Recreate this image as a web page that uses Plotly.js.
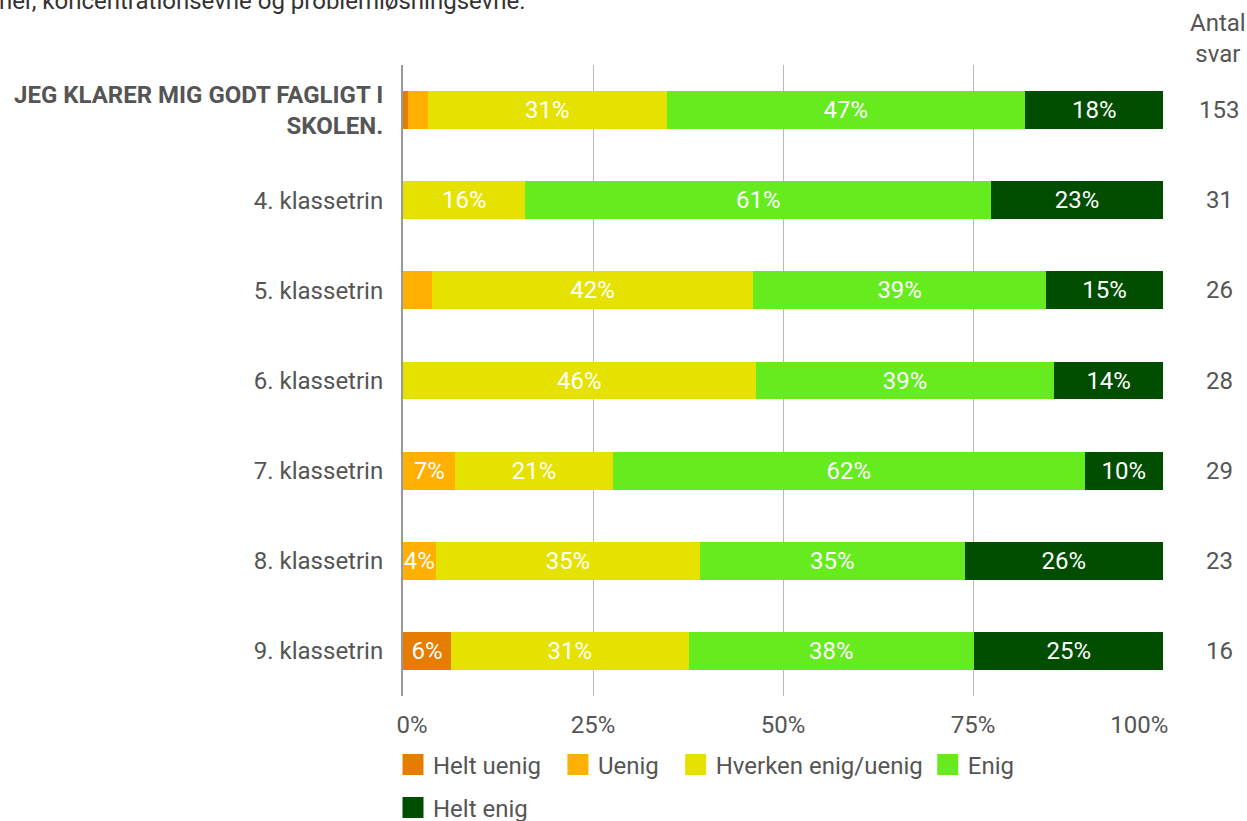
<!DOCTYPE html>
<html>
<head>
<meta charset="utf-8">
<script src="https://cdn.plot.ly/plotly-3.0.1.min.js"></script>
<style>html,body{margin:0;padding:0;background:#fff;}#chart{width:1247px;height:821px;}</style>
</head>
<body>
<div id="chart"></div>
<script>
const categories = ["JEG KLARER MIG GODT FAGLIGT I<br>SKOLEN.", "4. klassetrin", "5. klassetrin", "6. klassetrin", "7. klassetrin", "8. klassetrin", "9. klassetrin"];
const counts = [153, 31, 26, 28, 29, 23, 16];
const seriesNames = ["Helt uenig", "Uenig", "Hverken enig/uenig", "Enig", "Helt enig"];
const seriesColors = ["#E67C00", "#FFB000", "#E6E200", "#66EB1E", "#004D00"];
const heltUenig = [0.7, 0, 0, 0, 0, 0, 6.3];
const uenig = [2.6, 0, 3.8, 0, 6.9, 4.3, 0];
const hverken = [31.4, 16.1, 42.3, 46.4, 20.7, 34.8, 31.3];
const enig = [47.1, 61.3, 38.5, 39.3, 62.1, 34.8, 37.5];
const heltEnig = [18.3, 22.6, 15.4, 14.3, 10.3, 26.1, 25.0];
const xTicks = [0, 25, 50, 75, 100];
const xTickLabels = ["0%", "25%", "50%", "75%", "100%"];
const headerText = "Antal<br>svar";
const topText = "ner, koncentrationsevne og problemløsningsevne.";

const FONT = 'Roboto, sans-serif';
const NB = '\u00A0';
const series = [heltUenig, uenig, hverken, enig, heltEnig];
const ids = categories.map((c, i) => i);
const tickText = categories.map((c, i) => i === 0 ? '<b>' + c + '</b>' : c);
// first/last x tick labels sit inward, as in the reference
const xTickText = xTickLabels.map((t, i) => i === 0 ? NB.repeat(3) + t : (i === xTickLabels.length - 1 ? t + NB.repeat(8) : t));
// extra spacing after some legend entries
const legendPad = [2, 2, 0, 0, 0];

const traces = series.map((vals, k) => ({
  type: 'bar',
  orientation: 'h',
  name: seriesNames[k],
  y: ids,
  x: vals,
  marker: {color: seriesColors[k], line: {width: 0}},
  text: vals.map(v => v >= 4 ? Math.round(v) + '%' : ''),
  textposition: 'inside',
  insidetextanchor: 'middle',
  textangle: 0,
  textfont: {color: '#ffffff', size: 24, family: FONT},
  constraintext: 'none',
  showlegend: false,
  hoverinfo: 'skip'
}));
// legend entries (square swatches)
seriesNames.forEach((nm, k) => {
  traces.push({
    type: 'scatter', mode: 'markers', name: nm + NB.repeat(legendPad[k]),
    x: [null], y: [null],
    marker: {symbol: 'square', size: 16, color: seriesColors[k], line: {width: 5, color: seriesColors[k]}},
    legend: k < 4 ? 'legend' : 'legend2',
    showlegend: true, hoverinfo: 'skip'
  });
});

const annotations = counts.map((n, i) => ({
  xref: 'paper', yref: 'y', x: (1219 - 403) / 760, y: i,
  text: String(n), showarrow: false, xanchor: 'center', yanchor: 'middle',
  font: {size: 24, color: '#555555', family: FONT}
}));
annotations.push({
  xref: 'paper', yref: 'paper', x: (1217.5 - 403) / 760, y: 1 + 27 / 631,
  text: headerText, showarrow: false, xanchor: 'center', yanchor: 'middle', align: 'center',
  font: {size: 24, color: '#555555', family: FONT}
});
annotations.push({
  xref: 'paper', yref: 'paper', x: -406 / 760, y: 1 + 65 / 631,
  text: topText, showarrow: false, xanchor: 'left', yanchor: 'middle', yshift: -1,
  font: {size: 24, color: '#333333', family: FONT}
});

const legendFont = {size: 24, color: '#555555', family: FONT};
const layout = {
  width: 1247, height: 821,
  margin: {l: 403, r: 84, t: 65, b: 125},
  paper_bgcolor: '#ffffff', plot_bgcolor: '#ffffff',
  barmode: 'stack',
  bargap: 0.58,
  font: {family: FONT, color: '#555555'},
  uniformtext: {mode: 'show', minsize: 24},
  xaxis: {
    range: [0, 100], tickvals: xTicks, ticktext: xTickText,
    showgrid: true, gridcolor: '#b8b8b8', gridwidth: 1, zeroline: false,
    ticks: '', ticklabelstandoff: 12,
    tickfont: {size: 24, color: '#555555', family: FONT}, fixedrange: true
  },
  yaxis: {
    tickvals: ids, ticktext: tickText, range: [6.5, -0.5],
    showgrid: false, zeroline: false, showline: true, linecolor: '#999999', linewidth: 2,
    ticks: '', ticklabelstandoff: 13,
    tickfont: {size: 24, color: '#555555', family: FONT}, fixedrange: true
  },
  showlegend: true,
  legend: {
    orientation: 'h', xref: 'container', yref: 'container',
    x: 393 / 1247, xanchor: 'left', y: 56 / 821, yanchor: 'middle',
    font: legendFont, traceorder: 'normal', itemclick: false, itemdoubleclick: false
  },
  legend2: {
    orientation: 'h', xref: 'container', yref: 'container',
    x: 393 / 1247, xanchor: 'left', y: 13 / 821, yanchor: 'middle',
    font: legendFont, traceorder: 'normal', itemclick: false, itemdoubleclick: false
  },
  annotations: annotations
};

Plotly.newPlot('chart', traces, layout, {displayModeBar: false, staticPlot: true});
</script>
</body>
</html>
